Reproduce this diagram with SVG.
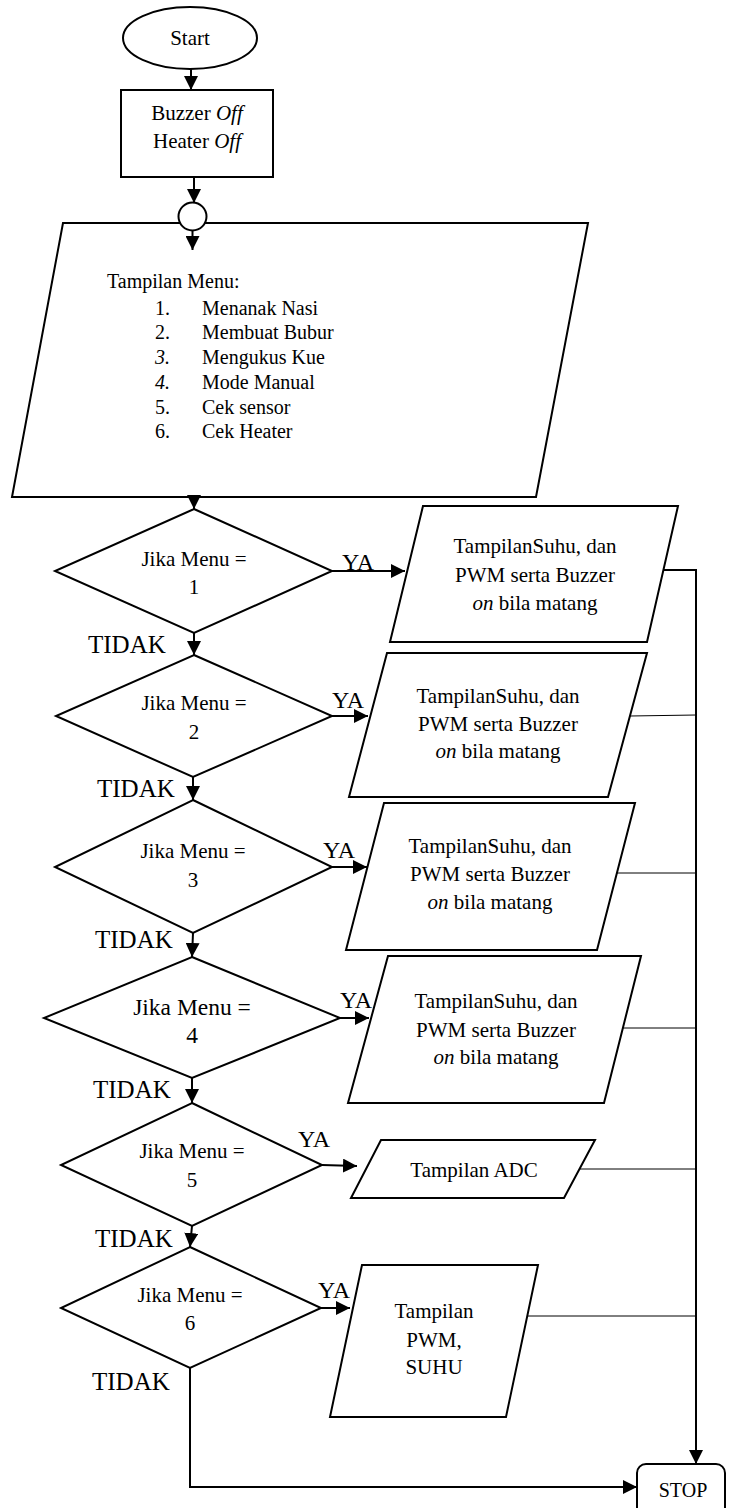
<svg xmlns="http://www.w3.org/2000/svg" width="731" height="1508" viewBox="0 0 731 1508">
<defs>
<style>
.s{fill:#fff;stroke:#000;stroke-width:2;stroke-linejoin:miter}
.c{fill:none;stroke:#000;stroke-width:2}
.th{fill:none;stroke:#000;stroke-width:1}
.t{font-family:"Liberation Serif","Times New Roman","DejaVu Serif",serif;font-size:21px;fill:#000}
.mn{font-size:20px}
.m{text-anchor:middle}
.lbl{font-size:24px}
.it{font-style:italic}
</style>
<marker id="ah" viewBox="0 0 10 10" markerUnits="userSpaceOnUse" markerWidth="14" markerHeight="14" refX="10" refY="5" orient="auto">
<path d="M0,0 L10,5 L0,10 z" fill="#000"/>
</marker>
</defs>
<rect width="731" height="1508" fill="#fff"/>

<g id="start">
<ellipse class="s" cx="190" cy="38" rx="67" ry="31"/>
<text class="t m" x="190" y="45">Start</text>
</g>

<g id="init">
<rect class="s" x="121" y="90" width="152" height="87"/>
<text class="t m" x="197" y="120">Buzzer <tspan class="it">Off</tspan></text>
<text class="t m" x="197" y="148">Heater <tspan class="it">Off</tspan></text>
</g>

<g id="menu">
<polygon class="s" points="63,223 588,223 536,497 12,497"/>
<text class="t mn" x="107" y="288">Tampilan Menu:</text>
<text class="t mn" x="155" y="314.5">1.</text><text class="t mn" x="202" y="314.5">Menanak Nasi</text>
<text class="t mn" x="155" y="339.3">2.</text><text class="t mn" x="202" y="339.3">Membuat Bubur</text>
<text class="t mn it" x="155" y="364">3.</text><text class="t mn" x="202" y="364">Mengukus Kue</text>
<text class="t mn it" x="155" y="388.8">4.</text><text class="t mn" x="202" y="388.8">Mode Manual</text>
<text class="t mn" x="155" y="413.5">5.</text><text class="t mn" x="202" y="413.5">Cek sensor</text>
<text class="t mn" x="155" y="438.3">6.</text><text class="t mn" x="202" y="438.3">Cek Heater</text>
</g>

<g id="junction">
<circle class="s" cx="192.5" cy="216.5" r="14"/>
</g>

<g id="d1">
<polygon class="s" points="194,509 332,571 194,633 55,571"/>
<text class="t m" x="194" y="566">Jika Menu =</text>
<text class="t m" x="194" y="594">1</text>
</g>
<g id="d2">
<polygon class="s" points="194,655 332,716 193,777 56,716"/>
<text class="t m" x="194" y="710">Jika Menu =</text>
<text class="t m" x="194" y="739">2</text>
</g>
<g id="d3">
<polygon class="s" points="193,800 332,867 193,933 55,867"/>
<text class="t m" x="193" y="858">Jika Menu =</text>
<text class="t m" x="193" y="887">3</text>
</g>
<g id="d4">
<polygon class="s" points="192,957 340,1018 192,1078 44,1018"/>
<text class="t m" x="192" y="1015" style="font-size:23.5px">Jika Menu =</text>
<text class="t m" x="192" y="1043" style="font-size:23.5px">4</text>
</g>
<g id="d5">
<polygon class="s" points="192,1103 322,1165 192,1226 61,1165"/>
<text class="t m" x="192" y="1158">Jika Menu =</text>
<text class="t m" x="192" y="1187">5</text>
</g>
<g id="d6">
<polygon class="s" points="190,1247 321,1308 190,1368 61,1308"/>
<text class="t m" x="190" y="1302">Jika Menu =</text>
<text class="t m" x="190" y="1330">6</text>
</g>

<g id="p1">
<polygon class="s" points="423,506 678,506 647,642 390,642"/>
<text class="t m" x="535" y="553">TampilanSuhu, dan</text>
<text class="t m" x="535" y="582">PWM serta Buzzer</text>
<text class="t m" x="535" y="610"><tspan class="it">on</tspan> bila matang</text>
</g>
<g id="p2">
<polygon class="s" points="387,653 647,653 608,797 349,797"/>
<text class="t m" x="498" y="703">TampilanSuhu, dan</text>
<text class="t m" x="498" y="731">PWM serta Buzzer</text>
<text class="t m" x="498" y="758"><tspan class="it">on</tspan> bila matang</text>
</g>
<g id="p3">
<polygon class="s" points="384,803 635,803 597,950 346,950"/>
<text class="t m" x="490" y="853">TampilanSuhu, dan</text>
<text class="t m" x="490" y="881">PWM serta Buzzer</text>
<text class="t m" x="490" y="909"><tspan class="it">on</tspan> bila matang</text>
</g>
<g id="p4">
<polygon class="s" points="388,956 641,956 604,1103 348,1103"/>
<text class="t m" x="496" y="1008">TampilanSuhu, dan</text>
<text class="t m" x="496" y="1037">PWM serta Buzzer</text>
<text class="t m" x="496" y="1064"><tspan class="it">on</tspan> bila matang</text>
</g>
<g id="p5">
<polygon class="s" points="381,1140 595,1140 564,1198 351,1198"/>
<text class="t m" x="474" y="1177">Tampilan ADC</text>
</g>
<g id="p6">
<polygon class="s" points="362,1265 538,1265 506,1417 330,1417"/>
<text class="t m" x="434" y="1318">Tampilan</text>
<text class="t m" x="434" y="1347">PWM,</text>
<text class="t m" x="434" y="1374">SUHU</text>
</g>

<g id="stop">
<rect class="s" x="637" y="1464" width="88" height="60" rx="9"/>
<text class="t m" x="683" y="1497" style="font-size:20px">STOP</text>
</g>

<g id="connectors">
<line class="c" x1="191" y1="69" x2="191" y2="90" marker-end="url(#ah)"/>
<line class="c" x1="194" y1="177" x2="194" y2="203" marker-end="url(#ah)"/>
<line class="c" x1="192.5" y1="230" x2="192.5" y2="250" marker-end="url(#ah)"/>
<line class="c" x1="194" y1="497" x2="194" y2="509" marker-end="url(#ah)"/>
<line class="c" x1="194" y1="633" x2="194" y2="655" marker-end="url(#ah)"/>
<line class="c" x1="193" y1="777" x2="193" y2="800" marker-end="url(#ah)"/>
<line class="c" x1="193" y1="933" x2="192" y2="957" marker-end="url(#ah)"/>
<line class="c" x1="192" y1="1078" x2="192" y2="1103" marker-end="url(#ah)"/>
<line class="c" x1="192" y1="1226" x2="190" y2="1247" marker-end="url(#ah)"/>
<line class="c" x1="332" y1="571" x2="405" y2="571" marker-end="url(#ah)"/>
<line class="c" x1="332" y1="716" x2="368" y2="716" marker-end="url(#ah)"/>
<line class="c" x1="332" y1="867" x2="367" y2="867" marker-end="url(#ah)"/>
<line class="c" x1="340" y1="1018" x2="369" y2="1018" marker-end="url(#ah)"/>
<line class="c" x1="322" y1="1165" x2="357" y2="1166" marker-end="url(#ah)"/>
<line class="c" x1="321" y1="1308" x2="350" y2="1308" marker-end="url(#ah)"/>
<polyline class="c" points="190,1368 190,1487 637,1487" marker-end="url(#ah)"/>
<polyline class="c" points="663,570 696,570 696,1464" marker-end="url(#ah)"/>
<line class="th" x1="630" y1="716" x2="696" y2="715"/>
<line class="th" x1="617" y1="873" x2="696" y2="873"/>
<line class="th" x1="623" y1="1028" x2="696" y2="1028"/>
<line class="th" x1="580" y1="1169" x2="696" y2="1169"/>
<line class="th" x1="527" y1="1316" x2="696" y2="1316"/>
<text class="t lbl" x="342" y="570">YA</text>
<text class="t lbl" x="332" y="708">YA</text>
<text class="t lbl" x="323" y="858">YA</text>
<text class="t lbl" x="340" y="1008">YA</text>
<text class="t lbl" x="298" y="1147">YA</text>
<text class="t lbl" x="318" y="1298">YA</text>
<text class="t lbl" x="88" y="653" style="font-size:25px">TIDAK</text>
<text class="t lbl" x="97" y="797" style="font-size:25px">TIDAK</text>
<text class="t lbl" x="95" y="948" style="font-size:25px">TIDAK</text>
<text class="t lbl" x="93" y="1098" style="font-size:25px">TIDAK</text>
<text class="t lbl" x="95" y="1247" style="font-size:25px">TIDAK</text>
<text class="t lbl" x="92" y="1390" style="font-size:25px">TIDAK</text>
</g>
</svg>
